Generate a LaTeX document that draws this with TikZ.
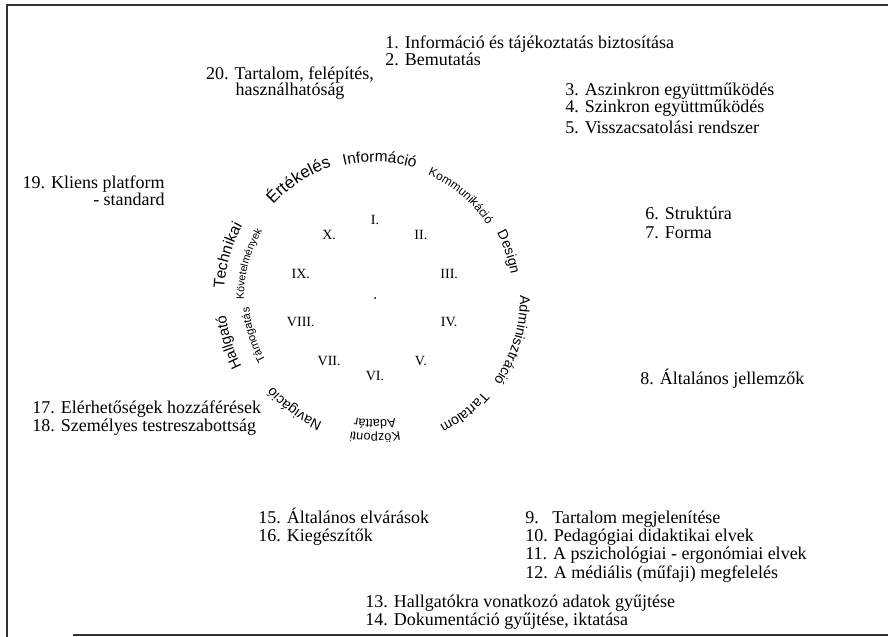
\documentclass[tikz,border=0pt]{standalone}
\usepackage{fontspec}
\setmainfont{Liberation Serif}
\setsansfont{Liberation Sans}
\usetikzlibrary{decorations.text}

\begin{document}
\begin{tikzpicture}[
  x=0.025cm, y=0.025cm,
  itm/.style={anchor=base west, inner sep=0pt, font=\fontsize{12.8}{14}\selectfont},
  rom/.style={inner sep=0pt, font=\fontsize{10}{12}\selectfont},
  frame/.style={line width=1.2pt, black!80},
  wheel/.style={decorate, decoration={text along path, text align=center, text={#1}}},
]
  \useasboundingbox (0,0) rectangle (888,-637);
  % open frame
  \draw[frame] (888,-5) -- (7,-5) -- (7,-637);
  \draw[frame] (73,-635) -- (888,-635);

  % wheel of the ten areas
  \begin{scope}[shift={(375,-298)}]
    \fill (0,0) circle[radius=1];
    \foreach \num [count=\i from 0] in {I.,II.,III.,IV.,V.,VI.,VII.,VIII.,IX.,X.}
      \node[rom] (sec\i) at ({90-36*\i}:78) {\num};
    \path[wheel={|\sffamily\fontsize{11}{11}\selectfont|Információ}] (128:136) arc[start angle=128, end angle=48, radius=136];
    \path[wheel={|\sffamily\fontsize{8.5}{9}\selectfont|Kommunikáció}] (90:134) arc[start angle=90, end angle=10, radius=134];
    \path[wheel={|\sffamily\fontsize{12}{12}\selectfont|Értékelés}] (163:138) arc[start angle=163, end angle=83, radius=138];
    \path[wheel={|\sffamily\fontsize{10}{10}\selectfont|Design}] (59:138) arc[start angle=59, end angle=-21, radius=138];
    \path[wheel={|\sffamily\fontsize{10}{10}\selectfont|Adminisztráció}] (23:145) arc[start angle=23, end angle=-57, radius=145];
    \path[wheel={|\sffamily\fontsize{10}{10}\selectfont|Tartalom}] (-12:143) arc[start angle=-12, end angle=-92, radius=143];
    \path[wheel={|\sffamily\fontsize{9}{9}\selectfont|Központi}] (-50:136) arc[start angle=-50, end angle=-130, radius=136];
    \path[wheel={|\sffamily\fontsize{9}{9}\selectfont|Adattár}] (-50:122) arc[start angle=-50, end angle=-130, radius=122];
    \path[wheel={|\sffamily\fontsize{10}{10}\selectfont|Navigáció}] (-86:135) arc[start angle=-86, end angle=-166, radius=135];
    \path[wheel={|\sffamily\fontsize{10.5}{11}\selectfont|Hallgató}] (-123:150) arc[start angle=-123, end angle=-203, radius=150];
    \path[wheel={|\sffamily\fontsize{8}{8}\selectfont|Támogatás}] (-123:126) arc[start angle=-123, end angle=-203, radius=126];
    \path[wheel={|\sffamily\fontsize{11}{11}\selectfont|Technikai}] (204:151) arc[start angle=204, end angle=124, radius=151];
    \path[wheel={|\sffamily\fontsize{7.5}{8}\selectfont|Követelmények}] (205:131) arc[start angle=205, end angle=125, radius=131];
  \end{scope}

  % numbered items
  \node[itm] (i1) at (385,-49) {1. Információ és tájékoztatás biztosítása};
  \node[itm] (i2) at (385,-66) {2. Bemutatás};
  \node[itm, anchor=base] (i20a) at (290,-79) {20. Tartalom, felépítés,};
  \node[itm, anchor=base] (i20b) at (290,-96) {használhatóság};
  \node[itm] (i3) at (565,-96) {3. Aszinkron együttműködés};
  \node[itm] (i4) at (565,-113) {4. Szinkron együttműködés};
  \node[itm] (i5) at (565,-133) {5. Visszacsatolási rendszer};
  \node[itm, anchor=base east] (i19a) at (165,-188) {19. Kliens platform};
  \node[itm, anchor=base east] (i19b) at (165,-205) {- standard};
  \node[itm] (i6) at (645,-219) {6. Struktúra};
  \node[itm] (i7) at (645,-238) {7. Forma};
  \node[itm] (i8) at (640,-384) {8. Általános jellemzők};
  \node[itm] (i17) at (32,-413) {17. Elérhetőségek hozzáférések};
  \node[itm] (i18) at (32,-431) {18. Személyes testreszabottság};
  \node[itm] (i15) at (258,-523) {15. Általános elvárások};
  \node[itm] (i16) at (258,-541) {16. Kiegészítők};
  \node[itm] (i9) at (525,-523) {9.\phantom{0} Tartalom megjelenítése};
  \node[itm] (i10) at (525,-541) {10. Pedagógiai didaktikai elvek};
  \node[itm] (i11) at (525,-559) {11. A pszichológiai - ergonómiai elvek};
  \node[itm] (i12) at (525,-578) {12. A médiális (műfaji) megfelelés};
  \node[itm] (i13) at (365,-607) {13. Hallgatókra vonatkozó adatok gyűjtése};
  \node[itm] (i14) at (365,-625) {14. Dokumentáció gyűjtése, iktatása};
\end{tikzpicture}
\end{document}
